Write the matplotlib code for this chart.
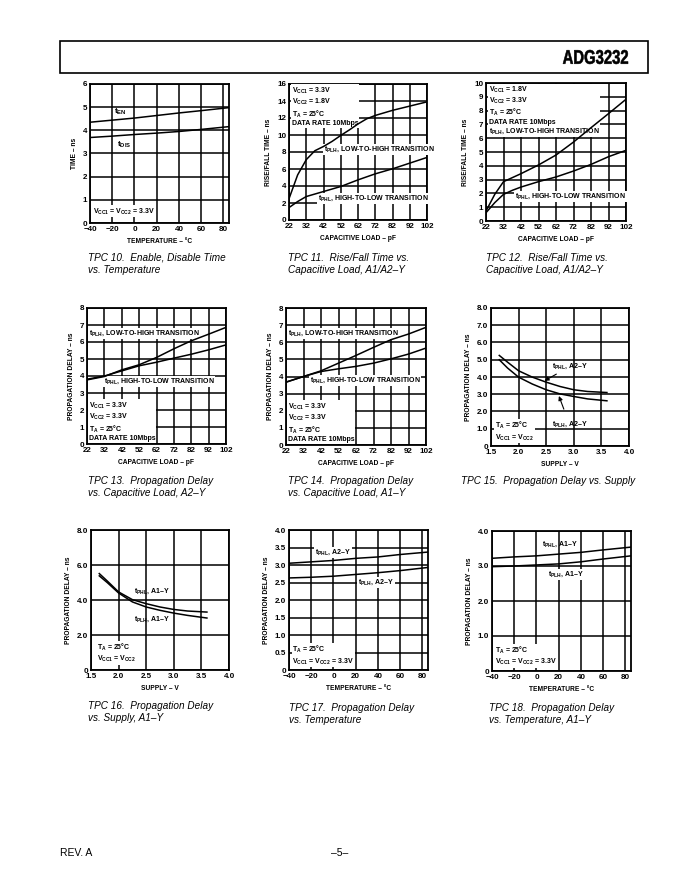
import numpy as np
import matplotlib.pyplot as plt
from matplotlib.patches import Rectangle, PathPatch
from matplotlib.textpath import TextPath
from matplotlib.font_manager import FontProperties
from matplotlib.transforms import Affine2D

plt.rcParams['font.family'] = ['Liberation Sans', 'DejaVu Sans']
plt.rcParams['mathtext.fontset'] = 'custom'
plt.rcParams['mathtext.rm'] = 'Liberation Sans'
plt.rcParams['mathtext.bf'] = 'Liberation Sans:bold'
plt.rcParams['mathtext.it'] = 'Liberation Sans:italic'

W, H = 680, 880

# TPC 10 - enable / disable time vs temperature
temp = [-40, -20, 0, 20, 40, 60, 85]
t_en = [4.35, 4.44, 4.53, 4.64, 4.75, 4.85, 4.98]
t_dis = [3.69, 3.75, 3.82, 3.88, 3.95, 4.04, 4.16]

# TPC 11 - rise/fall time, VCC1 = 3.3V, VCC2 = 1.8V
load11_plh = [22, 27, 32, 37, 42, 47, 52, 57, 62, 67, 72, 82, 92, 102]
tpc11_plh = [2.5, 5.3, 7.1, 8.15, 8.65, 9.25, 9.95, 10.6, 11.3, 11.9, 12.3, 12.9, 13.4, 13.9]
load11_phl = [22, 27, 32, 42, 52, 62, 72, 82, 92, 102]
tpc11_phl = [1.46, 2.17, 2.76, 3.35, 3.94, 4.72, 5.43, 6.02, 6.69, 7.36]

# TPC 12 - rise/fall time, VCC1 = 1.8V, VCC2 = 3.3V
load12 = [22, 27, 32, 37, 42, 52, 62, 72, 82, 92, 102]
tpc12_plh = [0.72, 1.93, 2.85, 3.14, 3.43, 4.06, 4.78, 5.72, 6.76, 7.78, 8.82]
tpc12_phl = [0.6, 1.33, 1.93, 2.22, 2.46, 2.85, 3.19, 3.62, 4.1, 4.66, 5.12]

# TPC 13 / 14 - propagation delay vs load
load = [22, 32, 42, 52, 62, 72, 82, 92, 102]
tpc13_plh = [3.77, 3.97, 4.36, 4.66, 5.09, 5.6, 6.07, 6.46, 6.86]
tpc13_phl = [3.81, 4.0, 4.3, 4.6, 4.81, 5.05, 5.28, 5.54, 5.83]
tpc14_plh = [3.67, 4.0, 4.33, 4.78, 5.23, 5.7, 6.15, 6.48, 6.87]
tpc14_phl = [3.67, 4.0, 4.29, 4.45, 4.59, 4.78, 5.03, 5.31, 5.66]

# TPC 15 / 16 - propagation delay vs supply
supply = [1.65, 1.8, 2.0, 2.25, 2.5, 2.75, 3.0, 3.25, 3.6]
tpc15_phl = [5.25, 4.86, 4.36, 3.99, 3.70, 3.45, 3.26, 3.16, 3.1]
tpc15_plh = [5.0, 4.52, 3.99, 3.59, 3.26, 3.02, 2.87, 2.73, 2.62]
tpc16_phl = [5.51, 5.07, 4.46, 4.02, 3.79, 3.6, 3.46, 3.37, 3.31]
tpc16_plh = [5.38, 4.98, 4.4, 3.89, 3.6, 3.41, 3.25, 3.12, 2.97]

# TPC 17 / 18 - propagation delay vs temperature
tpc17_phl = [3.05, 3.09, 3.13, 3.19, 3.23, 3.30, 3.37]
tpc17_plh = [2.63, 2.65, 2.68, 2.73, 2.78, 2.84, 2.93]
tpc18_phl = [3.22, 3.26, 3.29, 3.34, 3.39, 3.46, 3.54]
tpc18_plh = [2.98, 3.0, 3.03, 3.06, 3.12, 3.2, 3.29]

# ticks
temp_ticks = [-40, -20, 0, 20, 40, 60, 80]
load_ticks = [22, 32, 42, 52, 62, 72, 82, 92, 102]
supply_ticks = [1.5, 2.0, 2.5, 3.0, 3.5, 4.0]
supply_labels = ["1.5", "2.0", "2.5", "3.0", "3.5", "4.0"]

captions = [
    "TPC 10.  Enable, Disable Time\nvs. Temperature",
    "TPC 11.  Rise/Fall Time vs.\nCapacitive Load, A1/A2–Y",
    "TPC 12.  Rise/Fall Time vs.\nCapacitive Load, A1/A2–Y",
    "TPC 13.  Propagation Delay\nvs. Capacitive Load, A2–Y",
    "TPC 14.  Propagation Delay\nvs. Capacitive Load, A1–Y",
    "TPC 15.  Propagation Delay vs. Supply",
    "TPC 16.  Propagation Delay\nvs. Supply, A1–Y",
    "TPC 17.  Propagation Delay\nvs. Temperature",
    "TPC 18.  Propagation Delay\nvs. Temperature, A1–Y",
]

NOTE_FS = 5.0
LABEL_FS = 4.8

fig = plt.figure(figsize=(W / 100, H / 100), dpi=100)


def panel(l, r, t, b, xlim, ylim, xticks, yticks, xlabel, ylabel,
          xticklabels=None, yticklabels=None):
    ax = fig.add_axes([l / W, 1 - b / H, (r - l) / W, (b - t) / H])
    ax.set_xlim(*xlim)
    ax.set_ylim(*ylim)
    ax.set_xticks(xticks)
    ax.set_yticks(yticks)
    if xticklabels is not None:
        ax.set_xticklabels(xticklabels)
    if yticklabels is not None:
        ax.set_yticklabels(yticklabels)
    ax.tick_params(length=0, pad=2, labelsize=5.8)
    for lab in ax.get_xticklabels() + ax.get_yticklabels():
        lab.set_fontweight('bold')
    ax.grid(True, color='black', lw=1.1)
    ax.set_axisbelow(True)
    for s in ax.spines.values():
        s.set_linewidth(1.3)
    ax.set_xlabel(xlabel, fontsize=LABEL_FS, fontweight='bold', labelpad=3.5)
    ax.set_ylabel(ylabel, fontsize=LABEL_FS, fontweight='bold', labelpad=3.5)
    return ax


def note(ax, x, y, s, va='center', ha='left'):
    ax.text(x, y, s, fontsize=NOTE_FS, fontweight='bold', va=va, ha=ha,
            linespacing=1.15, zorder=4,
            bbox=dict(fc='white', ec='none', pad=0.6))


def curve(ax, x, y):
    ax.plot(x, y, color='black', lw=1.1, zorder=5)


def caption(x, y, s):
    fig.text(x / W, 1 - y / H, s, fontsize=7.2, style='italic',
             va='top', ha='left', linespacing=1.25)


TL = "TEMPERATURE – °C"
CL = "CAPACITIVE LOAD – pF"
SL = "SUPPLY – V"
PD = "PROPAGATION DELAY – ns"
RF = "RISE/FALL TIME – ns"
PLH_LH = r"$\mathbf{t_{PLH}}$, LOW-TO-HIGH TRANSITION"
PHL_HL = r"$\mathbf{t_{PHL}}$, HIGH-TO-LOW TRANSITION"
VCC_BOTH = r"$\mathbf{V_{CC1}}$ = $\mathbf{V_{CC2}}$ = 3.3V"
TA = r"$\mathbf{T_A}$ = 25°C"

# TPC 10
ax = panel(90, 229, 84, 223, (-40, 85), (0, 6), temp_ticks, range(7), TL, "TIME – ns")
curve(ax, temp, t_en)
curve(ax, temp, t_dis)
ax.text(-18, 4.72, r"$\mathbf{t_{EN}}$", fontsize=6.0, zorder=4)
ax.text(-16, 3.3, r"$\mathbf{t_{DIS}}$", fontsize=6.0, zorder=4)
note(ax, -37, 0.5, VCC_BOTH)
caption(88, 253, captions[0])

# TPC 11
ax = panel(289, 427, 84, 220, (22, 102), (0, 16), load_ticks, range(0, 17, 2), CL, RF)
curve(ax, load11_plh, tpc11_plh)
curve(ax, load11_phl, tpc11_phl)
note(ax, 23.5, 15.8, r"$\mathbf{V_{CC1}}$ = 3.3V" "\n" r"$\mathbf{V_{CC2}}$ = 1.8V" "\n"
     + TA + "\nDATA RATE 10Mbps", va='top')
note(ax, 42, 8.3, PLH_LH)
note(ax, 39, 2.55, PHL_HL)
caption(288, 253, captions[1])

# TPC 12
ax = panel(486, 626, 83, 221, (22, 102), (0, 10), load_ticks, range(11), CL, RF)
curve(ax, load12, tpc12_plh)
curve(ax, load12, tpc12_phl)
note(ax, 23.5, 9.9, r"$\mathbf{V_{CC1}}$ = 1.8V" "\n" r"$\mathbf{V_{CC2}}$ = 3.3V" "\n"
     + TA + "\nDATA RATE 10Mbps\n" + PLH_LH, va='top')
note(ax, 38.5, 1.8, PHL_HL)
caption(486, 253, captions[2])

cond_block = (r"$\mathbf{V_{CC1}}$ = 3.3V" "\n" r"$\mathbf{V_{CC2}}$ = 3.3V" "\n"
              + TA + "\nDATA RATE 10Mbps")

# TPC 13
ax = panel(87, 226, 308, 444, (22, 102), (0, 8), load_ticks, range(9), CL, PD)
curve(ax, load, tpc13_plh)
curve(ax, load, tpc13_phl)
note(ax, 23, 6.5, PLH_LH)
note(ax, 31.5, 3.67, PHL_HL)
note(ax, 23, 0.1, cond_block, va='bottom')
caption(88, 476, captions[3])

# TPC 14
ax = panel(286, 426, 308, 445, (22, 102), (0, 8), load_ticks, range(9), CL, PD)
curve(ax, load, tpc14_plh)
curve(ax, load, tpc14_phl)
note(ax, 23, 6.5, PLH_LH)
note(ax, 35.5, 3.75, PHL_HL)
note(ax, 23, 0.1, cond_block, va='bottom')
caption(288, 476, captions[4])

# TPC 15
ax = panel(491, 629, 308, 446, (1.5, 4.0), (0, 8), supply_ticks, range(9), SL, PD,
           xticklabels=supply_labels,
           yticklabels=["0", "1.0", "2.0", "3.0", "4.0", "5.0", "6.0", "7.0", "8.0"])
curve(ax, supply, tpc15_phl)
curve(ax, supply, tpc15_plh)
ax.annotate(r"$\mathbf{t_{PHL}}$, A2–Y", xy=(2.47, 3.78), xytext=(2.6, 4.6),
            fontsize=NOTE_FS, fontweight='bold', va='center', zorder=6,
            arrowprops=dict(arrowstyle='-|>', lw=0.8, color='black',
                            mutation_scale=6, shrinkA=0, shrinkB=0))
ax.annotate(r"$\mathbf{t_{PLH}}$, A2–Y", xy=(2.73, 2.9), xytext=(2.6, 1.25),
            fontsize=NOTE_FS, fontweight='bold', va='center', zorder=6,
            arrowprops=dict(arrowstyle='-|>', lw=0.8, color='black',
                            mutation_scale=6, shrinkA=6, shrinkB=0))
note(ax, 1.57, 0.2, TA + "\n" r"$\mathbf{V_{CC1}}$ = $\mathbf{V_{CC2}}$", va='bottom')
caption(461, 476, captions[5])

# TPC 16
ax = panel(91, 229, 530, 670, (1.5, 4.0), (0, 8), supply_ticks, range(0, 9, 2), SL, PD,
           xticklabels=supply_labels, yticklabels=["0", "2.0", "4.0", "6.0", "8.0"])
curve(ax, supply, tpc16_phl)
curve(ax, supply, tpc16_plh)
ax.text(2.27, 4.5, r"$\mathbf{t_{PHL}}$, A1–Y", fontsize=NOTE_FS, fontweight='bold',
        va='center', zorder=4)
ax.text(2.27, 2.88, r"$\mathbf{t_{PLH}}$, A1–Y", fontsize=NOTE_FS, fontweight='bold',
        va='center', zorder=4)
note(ax, 1.6, 0.35, TA + "\n" r"$\mathbf{V_{CC1}}$ = $\mathbf{V_{CC2}}$", va='bottom')
caption(88, 701, captions[6])

# TPC 17
ax = panel(289, 428, 530, 670, (-40, 85), (0, 4), temp_ticks, np.arange(0, 4.01, 0.5), TL, PD,
           yticklabels=["0", "0.5", "1.0", "1.5", "2.0", "2.5", "3.0", "3.5", "4.0"])
curve(ax, temp, tpc17_phl)
curve(ax, temp, tpc17_plh)
note(ax, -16.5, 3.36, r"$\mathbf{t_{PHL}}$, A2–Y")
note(ax, 22, 2.5, r"$\mathbf{t_{PLH}}$, A2–Y")
note(ax, -37, 0.1, TA + "\n" + VCC_BOTH, va='bottom')
caption(289, 703, captions[7])

# TPC 18
ax = panel(492, 631, 531, 671, (-40, 85), (0, 4), temp_ticks, range(5), TL, PD,
           yticklabels=["0", "1.0", "2.0", "3.0", "4.0"])
curve(ax, temp, tpc18_phl)
curve(ax, temp, tpc18_plh)
ax.text(5, 3.62, r"$\mathbf{t_{PHL}}$, A1–Y", fontsize=NOTE_FS, fontweight='bold',
        va='center', zorder=4)
note(ax, 10.5, 2.76, r"$\mathbf{t_{PLH}}$, A1–Y")
note(ax, -37, 0.12, TA + "\n" + VCC_BOTH, va='bottom')
caption(489, 703, captions[8])

# header box with condensed part number, footer
fig.patches.append(Rectangle((60 / W, 1 - 73 / H), 588 / W, 32 / H, transform=fig.transFigure,
                             fill=False, lw=1.2, ec='black'))
tp = TextPath((0, 0), "ADG3232", size=1,
              prop=FontProperties(family='Liberation Sans', weight='bold'))
ext = tp.get_extents()
sx = 65 / ext.width
sy = 14 / ext.height
x0, y0 = 563, H - 64
trans = (Affine2D().translate(-ext.x0, -ext.y0).scale(sx / W, sy / H)
         .translate(x0 / W, y0 / H) + fig.transFigure)
fig.patches.append(PathPatch(tp, transform=trans, fc='black', ec='black', lw=0.4))

fig.text(60 / W, 1 - 853 / H, "REV. A", fontsize=7.5, ha='left', va='center')
fig.text(340 / W, 1 - 853 / H, "–5–", fontsize=7.5, ha='center', va='center')

fig.savefig("out.png", dpi=100, facecolor='white')
